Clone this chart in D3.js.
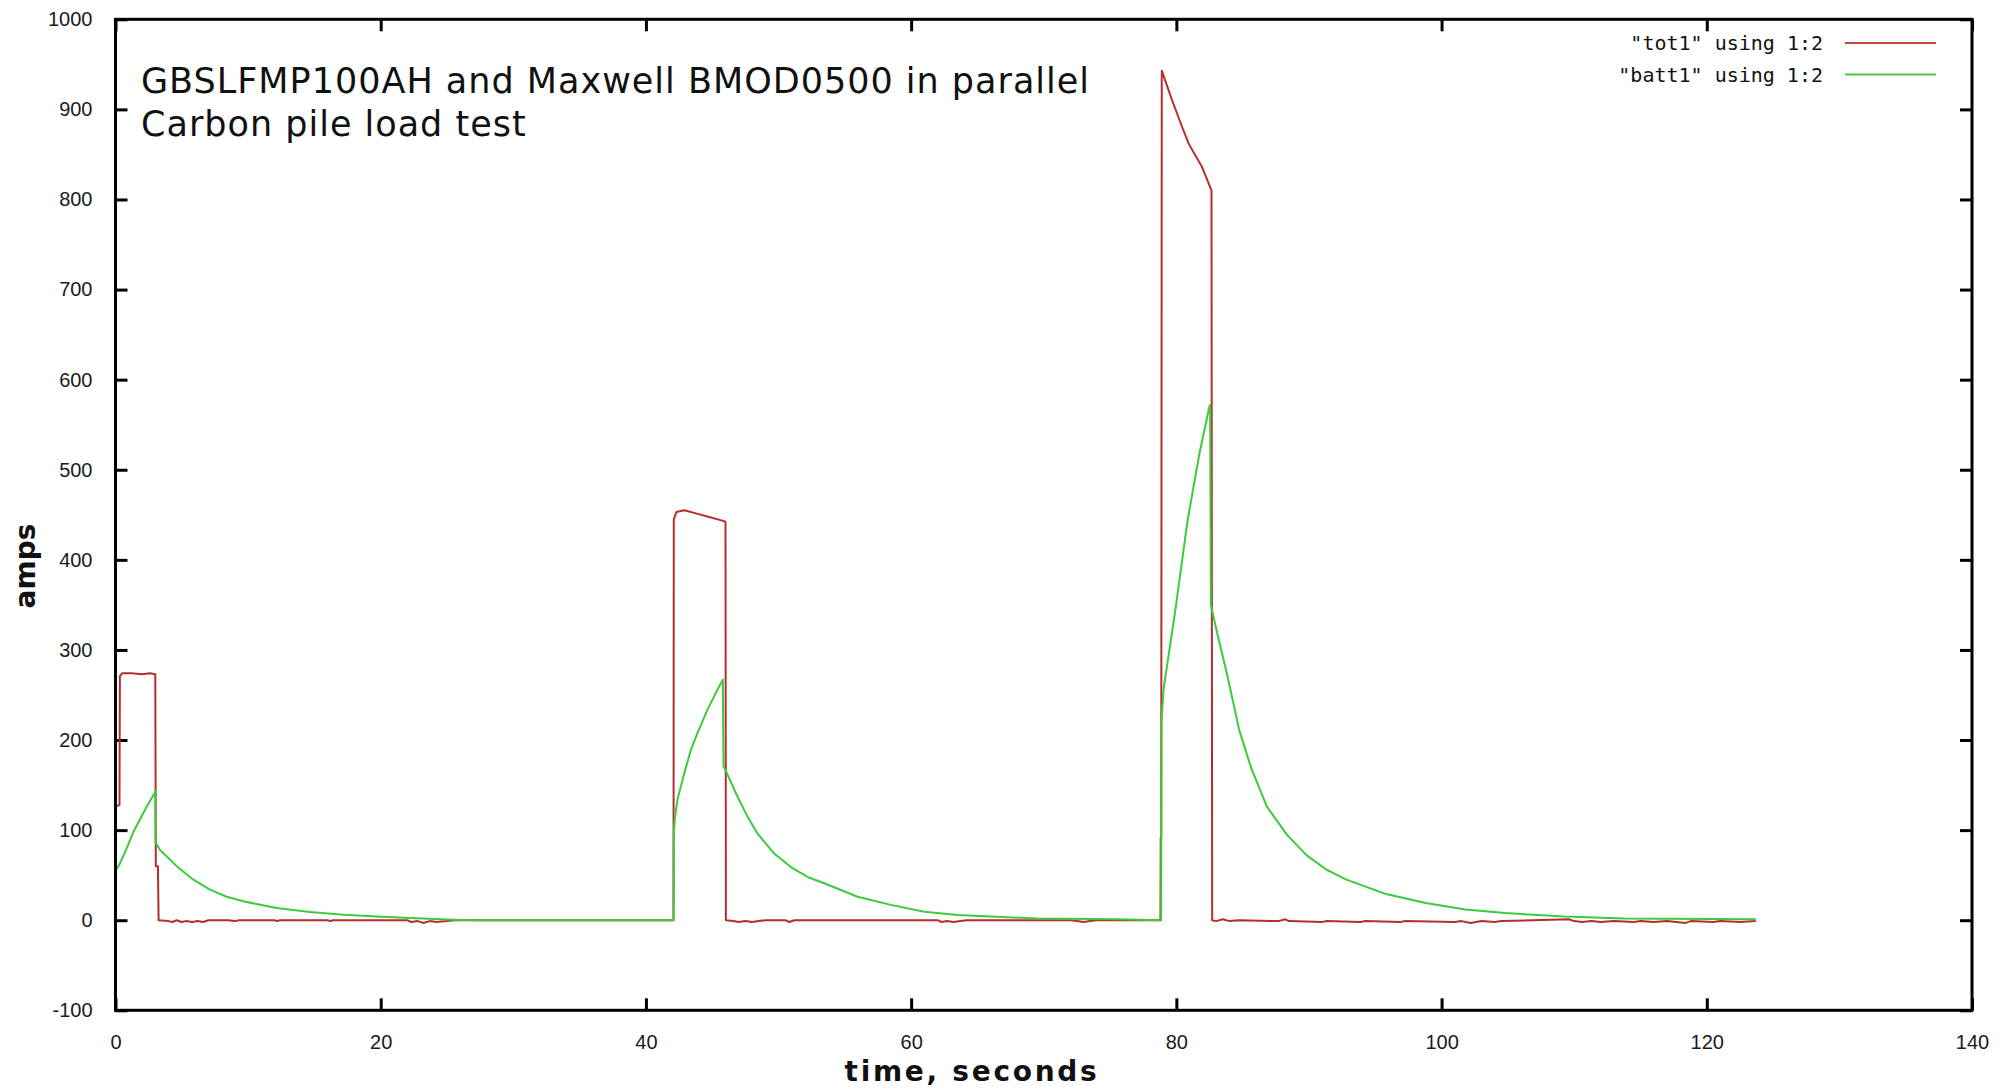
<!DOCTYPE html>
<html lang="en">
<head>
    <meta charset="UTF-8">
    <title>Carbon pile load test</title>
    <script src="https://cdn.jsdelivr.net/npm/d3@7/dist/d3.min.js"></script>
    <style>
        body { margin: 0; background: #fff; }
    </style>
</head>
<body>
<script>
    // tick values of the two axes
    var xTicks = [0, 20, 40, 60, 80, 100, 120, 140];
    var yTicks = [-100, 0, 100, 200, 300, 400, 500, 600, 700, 800, 900, 1000];

    var titleLines = ["GBSLFMP100AH and Maxwell BMOD0500 in parallel", "Carbon pile load test"];
    var legendLabels = ["\"tot1\" using 1:2", "\"batt1\" using 1:2"];

    // total current, [seconds, amps]
    var tot1 = [
        [0, 0], [0.02, 126], [0.3, 128], [0.33, 271], [0.5, 274], [1.2, 274], [2.0, 273], [2.6, 274], [3.0, 273],
        [3.04, 60], [3.2, 60], [3.25, 0],
        [4.0, -1], [4.3, -2], [4.6, 0], [5.0, -2], [5.3, -1], [5.8, -2], [6.2, -1], [6.6, -2], [7.0, 0], [8.5, 0],
        [9.0, -1], [9.3, 0], [12, 0], [12.2, -1], [12.4, 0], [16, 0], [16.2, -1], [16.4, 0], [22, 0], [22.3, -2],
        [22.8, -1], [23.2, -3], [23.7, -1], [24.2, -2], [25, -1], [25.6, 0], [42.08, 0],
        [42.1, 445], [42.3, 453], [42.9, 455], [43.9, 451], [44.9, 447], [45.9, 443], [46.0, 442], [46.03, 0],
        [46.6, -1], [47, -2], [47.5, -1], [48, -2], [48.5, -1], [49, 0], [50.5, 0], [50.8, -2], [51.2, 0], [62, 0],
        [62.3, -2], [62.7, -1], [63.2, -2], [63.7, -1], [64.2, 0], [72, 0], [72.5, -1], [73, -2], [73.5, -1],
        [74, 0], [78.8, 0],
        [78.82, 92], [78.86, 92], [78.9, 943], [79.66, 911], [80.42, 881], [80.93, 862], [81.31, 852],
        [81.94, 836], [82.65, 810], [82.7, 0],
        [83.0, -1], [83.5, 1], [84, -1], [84.7, 0], [87.7, -1], [88.2, 1], [88.5, -1], [91, -2], [91.3, -1],
        [93.9, -2], [94.2, -1], [96.9, -2], [97.2, -1], [101, -2], [101.5, -1], [102.2, -3], [103, -1], [104, -2],
        [104.5, -1], [109.6, 1], [110, -1], [110.6, -2], [111.3, -1], [112, -2], [113, -1], [114.5, -2], [115, -1],
        [116, -2], [117, -1], [118.4, -3], [118.8, -1], [120.5, -2], [121, -1], [122.5, -2], [123.7, -1]
    ];

    // battery current, [seconds, amps]
    var batt1 = [
        [0, 30], [0.05, 56], [0.3, 62], [0.85, 80], [1.35, 98], [1.85, 112], [2.35, 126], [2.98, 142], [3.0, 144],
        [3.02, 86], [3.36, 78], [4.62, 60], [5.87, 45], [7.13, 34], [8.38, 26], [9.64, 21], [12.15, 13.5],
        [14.67, 9], [17.18, 6], [19.7, 4.2], [22.2, 2.4], [25.5, 0.5], [27, 0], [42.08, 0],
        [42.1, 93], [42.13, 103], [42.2, 115], [42.38, 134], [42.89, 163], [43.39, 189], [43.89, 208],
        [44.65, 234], [45.4, 256], [45.8, 267], [45.85, 171], [46.05, 165], [46.91, 137], [47.66, 115],
        [48.42, 96], [49.67, 74], [50.93, 59], [52.19, 48], [53.44, 41], [55.96, 26], [58.47, 17], [60.99, 9.5],
        [63.5, 5.9], [66.01, 4], [69.53, 2], [75.57, 1], [78.85, 0],
        [78.88, 223], [79.05, 258], [79.95, 347], [80.85, 444], [81.74, 518], [82.49, 570], [82.55, 572],
        [82.6, 350], [83.09, 318], [83.84, 272], [84.74, 211], [85.64, 169], [86.83, 126], [88.33, 95],
        [89.83, 72], [91.33, 56], [92.82, 45], [95.82, 29], [98.81, 19], [101.8, 12], [104.8, 8], [109.3, 4],
        [113.8, 2], [123.7, 1]
    ];

    var series = [tot1, batt1];
    var colors = ["#b52e2c", "#3ccb3c"];
    var legendColors = ["#c44a48", "#4cc64c"];

    var widthSVG = 2013, heightSVG = 1090;
    var padding = {top: 19.3, bottom: 79.7, left: 115.5, right: 41};

    var svg = d3.select("body").append("svg")
        .attr("width", widthSVG)
        .attr("height", heightSVG);

    var scaleX = d3.scaleLinear()
        .domain([0, 140])
        .range([padding.left, widthSVG - padding.right]);
    var scaleY = d3.scaleLinear()
        .domain([-100, 1000])
        .range([heightSVG - padding.bottom, padding.top]);

    var tickFont = "'Liberation Sans', sans-serif";
    // plain integers with an ascii minus, like gnuplot prints them
    var fmt = function (d) { return String(d); };

    // axes, ticks point inwards and are repeated on the top and right
    var axisL = d3.axisLeft(scaleY).tickValues(yTicks).tickFormat(fmt)
        .tickSizeInner(-12).tickSizeOuter(0).tickPadding(23);
    var axisB = d3.axisBottom(scaleX).tickValues(xTicks).tickFormat(fmt)
        .tickSizeInner(-12).tickSizeOuter(0).tickPadding(25);
    var axisR = d3.axisRight(scaleY).tickValues(yTicks).tickSizeInner(-12).tickSizeOuter(0).tickFormat("");
    var axisT = d3.axisTop(scaleX).tickValues(xTicks).tickSizeInner(-12).tickSizeOuter(0).tickFormat("");

    var gs = [
        svg.append("g").attr("transform", "translate(" + padding.left + ",0)").call(axisL),
        svg.append("g").attr("transform", "translate(0," + (heightSVG - padding.bottom) + ")").call(axisB),
        svg.append("g").attr("transform", "translate(" + (widthSVG - padding.right) + ",0)").call(axisR),
        svg.append("g").attr("transform", "translate(0," + padding.top + ")").call(axisT)
    ];
    gs.forEach(function (g) {
        g.select(".domain").remove();
        g.selectAll(".tick line").attr("stroke", "#000").attr("stroke-width", 3);
        g.selectAll(".tick text").attr("font-family", tickFont).attr("font-size", "20px").attr("fill", "#1a1a1a");
    });

    // clip for the curves
    svg.append("clipPath").attr("id", "plotArea")
        .append("rect")
        .attr("x", padding.left).attr("y", padding.top)
        .attr("width", widthSVG - padding.left - padding.right)
        .attr("height", heightSVG - padding.top - padding.bottom);

    var line = d3.line()
        .x(function (d) { return scaleX(d[0]); })
        .y(function (d) { return scaleY(d[1]); });

    svg.append("g").attr("clip-path", "url(#plotArea)")
        .selectAll("path")
        .data(series)
        .enter()
        .append("path")
        .attr("d", line)
        .attr("fill", "none")
        .attr("stroke", function (d, i) { return colors[i]; })
        .attr("stroke-width", 2)
        .attr("stroke-linejoin", "round");

    // frame
    svg.append("rect")
        .attr("x", padding.left).attr("y", padding.top)
        .attr("width", widthSVG - padding.left - padding.right)
        .attr("height", heightSVG - padding.top - padding.bottom)
        .attr("fill", "none")
        .attr("stroke", "#000")
        .attr("stroke-width", 3);

    // title inside the plot
    svg.selectAll(".title")
        .data(titleLines)
        .enter()
        .append("text")
        .attr("class", "title")
        .attr("x", 141)
        .attr("y", function (d, i) { return 93 + i * 43; })
        .attr("font-family", "'DejaVu Sans', sans-serif")
        .attr("font-size", "35px")
        .attr("letter-spacing", "1px")
        .attr("fill", "#111")
        .text(function (d) { return d; });

    // legend
    var legend = svg.selectAll(".legend")
        .data(legendLabels)
        .enter()
        .append("g")
        .attr("class", "legend")
        .attr("transform", function (d, i) { return "translate(0," + (43 + i * 31.5) + ")"; });
    legend.append("text")
        .attr("x", 1823)
        .attr("dy", "0.35em")
        .attr("text-anchor", "end")
        .attr("font-family", "'DejaVu Sans Mono', monospace")
        .attr("font-size", "20px")
        .attr("fill", "#111")
        .text(function (d) { return d; });
    legend.append("line")
        .attr("x1", 1845).attr("x2", 1936)
        .attr("stroke", function (d, i) { return legendColors[i]; })
        .attr("stroke-width", 2);

    // axis titles
    svg.append("text")
        .attr("x", 972)
        .attr("y", 1081)
        .attr("text-anchor", "middle")
        .attr("font-family", "'DejaVu Sans', sans-serif")
        .attr("font-weight", "bold")
        .attr("font-size", "28px")
        .attr("letter-spacing", "2.7px")
        .attr("fill", "#111")
        .text("time, seconds");
    svg.append("text")
        .attr("transform", "translate(35,566) rotate(-90)")
        .attr("text-anchor", "middle")
        .attr("font-family", "'DejaVu Sans', sans-serif")
        .attr("font-weight", "bold")
        .attr("font-size", "28px")
        .attr("fill", "#111")
        .text("amps");
</script>
</body>
</html>
